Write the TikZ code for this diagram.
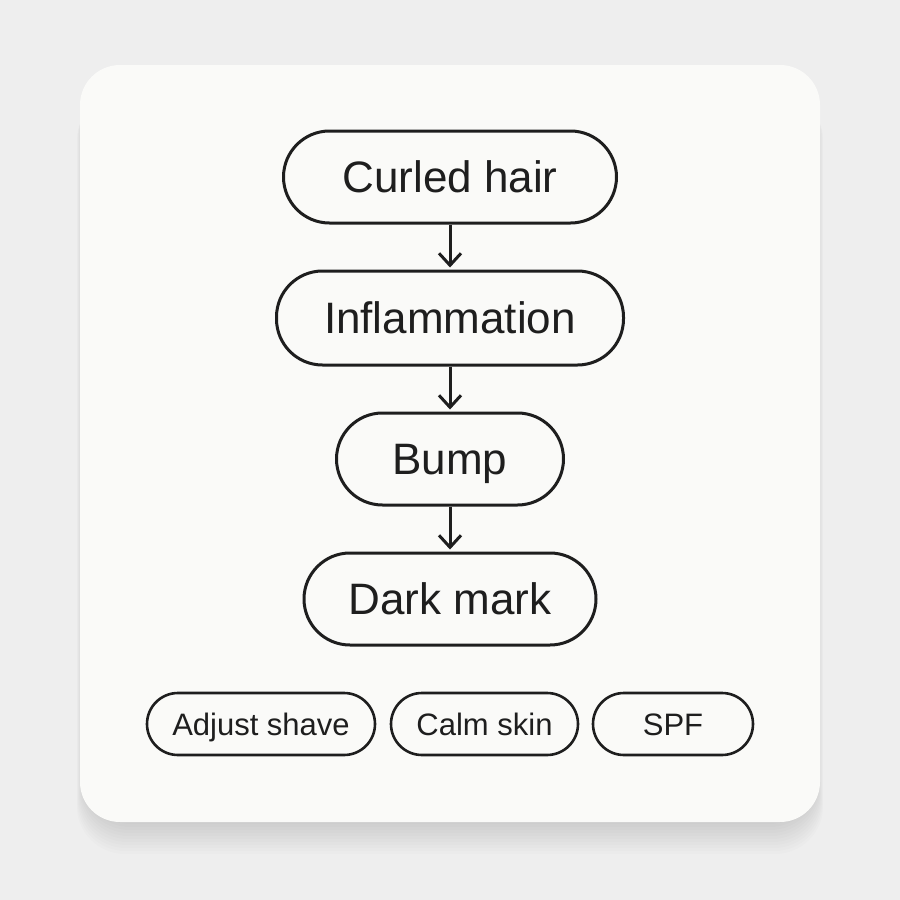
\documentclass[tikz,border=0pt]{standalone}
\usepackage{fontspec}
\setmainfont{Liberation Sans}
\usetikzlibrary{arrows.meta}
\definecolor{pagegray}{HTML}{EEEEEE}
\definecolor{cardwhite}{HTML}{FAFAF8}
\definecolor{inkblack}{HTML}{1E1E1E}

\begin{document}
\begin{tikzpicture}[x=0.5pt, y=-0.5pt, >={Straight Barb[length=6pt, width=11pt]}]
      \tikzstyle{pill}=[draw=inkblack, line width=1.5pt, fill=cardwhite, rounded corners=23pt, minimum height=46pt, inner sep=0pt, text height=15.8pt, text depth=0pt, text=inkblack, font=\fontsize{22}{26}\selectfont]
      \tikzstyle{tip pill}=[pill, rounded corners=15.5pt, minimum height=31pt, line width=1.3pt, text height=11.1pt, font=\fontsize{15.5}{18}\selectfont]
      \tikzstyle{link}=[->, draw=inkblack, line width=1.5pt, shorten >=1pt]

      \useasboundingbox (0,0) rectangle (900,900);
      \fill[pagegray] (0,0) rectangle (900,900);
      % card shadow
      \foreach \s in {1,...,12}
        \fill[black, opacity=0.012, rounded corners=24pt] (84-\s*0.6,78+\s*1.2) rectangle (816+\s*0.6,818+\s*3);
      \fill[cardwhite, rounded corners=20pt] (80,65) rectangle (820,822);

      \node[pill, minimum width=166.5pt] (curled) at (450,177) {Curled hair};
      \node[pill, minimum width=173.5pt, minimum height=47pt] (inflam) at (450,318) {Inflammation};
      \node[pill, minimum width=113.5pt] (bump) at (450,459) {Bump};
      \node[pill, minimum width=146pt] (mark) at (450,599) {Dark mark};

      \node[tip pill, minimum width=114pt] (shave) at (261,724) {Adjust shave};
      \node[tip pill, minimum width=93.5pt] (calm) at (484.5,724) {Calm skin};
      \node[tip pill, minimum width=80pt] (spf) at (673,724) {SPF};

      \path (curled) edge [link] (inflam);
      \path (inflam) edge [link] (bump);
      \path (bump) edge [link] (mark);
\end{tikzpicture}
\end{document}
